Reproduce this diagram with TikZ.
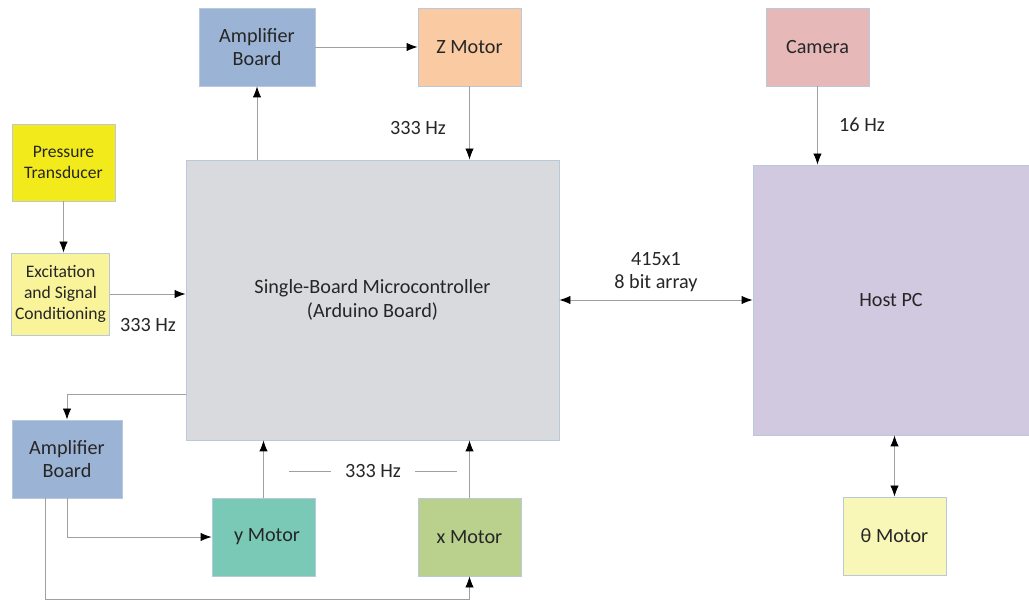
\documentclass[tikz,border=0pt]{standalone}
\usepackage{fontspec}
\setmainfont{Carlito}
\usetikzlibrary{arrows.meta, positioning, calc}
\definecolor{cAmp}{RGB}{155, 179, 212}
\definecolor{cZmot}{RGB}{250, 202, 162}
\definecolor{cCam}{RGB}{230, 184, 184}
\definecolor{cPress}{RGB}{242, 234, 26}
\definecolor{cExc}{RGB}{249, 243, 154}
\definecolor{cMcu}{RGB}{216, 218, 221}
\definecolor{cHost}{RGB}{209, 201, 224}
\definecolor{cYmot}{RGB}{121, 201, 182}
\definecolor{cXmot}{RGB}{185, 209, 140}
\definecolor{cTmot}{RGB}{249, 247, 184}
\definecolor{bBox}{RGB}{186, 200, 220}
\definecolor{lGray}{RGB}{160, 160, 160}
\definecolor{tDark}{RGB}{38, 38, 38}

\begin{document}
\begin{tikzpicture}[
    font=\fontsize{11.5}{13.5}\selectfont,
    block/.style={
        draw=bBox,
        line width=0.5pt,
        fill=#1,
        align=center,
        text=tDark,
        inner sep=2pt,
        minimum width=2.06cm,
        minimum height=1.56cm
    },
    small/.style={font=\fontsize{10}{12}\selectfont},
    arrow/.style={-{Latex[length=2.2mm, width=1.7mm, color=black]}, line width=0.5pt, color=lGray},
    both/.style={{Latex[length=2.2mm, width=1.7mm, color=black]}-{Latex[length=2.2mm, width=1.7mm, color=black]}, line width=0.5pt, color=lGray},
    lbl/.style={text=tDark, align=center}
]
\useasboundingbox (0, 0) rectangle (20.58, -12.02);

% Main blocks
\node[block=cMcu, minimum width=7.46cm, minimum height=5.6cm] (mcu) at (7.45, -6.0) {
    Single-Board Microcontroller\\(Arduino Board)
};
\node[block=cHost, minimum width=5.52cm, minimum height=5.4cm] (host) at (17.82, -6.0) {Host PC};

\node[block=cAmp, minimum width=2.32cm] (ampTop) at (5.14, -0.94) {Amplifier\\Board};
\node[block=cZmot] (zMotor) at (9.39, -0.94) {Z Motor};
\node[block=cCam] (camera) at (16.35, -0.94) {Camera};

\node[block=cPress, small, minimum height=1.54cm] (press) at (1.27, -3.25) {Pressure\\Transducer};
\node[block=cExc, small, minimum width=1.94cm, minimum height=1.64cm] (excite) at (1.21, -5.88) {Excitation\\and Signal\\Conditioning};

\node[block=cAmp, minimum width=2.2cm] (ampBot) at (1.34, -9.18) {Amplifier\\Board};
\node[block=cYmot] (yMotor) at (5.27, -10.74) {\hspace{4pt}y Motor};
\node[block=cXmot] (xMotor) at (9.39, -10.74) {x Motor};
\node[block=cTmot] (tMotor) at (17.89, -10.72) {θ Motor};

% Labels
\node[lbl] (fZ) at (8.36, -2.56) {333 Hz};
\node[lbl] (fExc) at (2.96, -6.5) {333 Hz};
\node[lbl] (fCam) at (17.24, -2.5) {16 Hz};
\node[lbl] (arr) at (13.12, -5.44) {415x1\\8 bit array};

% Connectors
\draw[arrow] (mcu.north -| ampTop) -- (ampTop.south);
\draw[arrow] (ampTop.east) -- (zMotor.west);
\draw[arrow] (zMotor.south) -- (mcu.north -| zMotor);
\draw[arrow] (press.south) -- (press.south |- excite.north);
\draw[arrow] (excite.east) -- (mcu.west |- excite.east);
\draw[arrow] ([yshift=-1.88cm]mcu.west) -| (ampBot.north);
\draw[arrow] (ampBot.south) |- (yMotor.west);
\draw[arrow] ([xshift=-0.44cm]ampBot.south) |- ($(xMotor.south)+(0,-0.46)$) -- (xMotor.south);
\draw[arrow] (yMotor.north) -- (mcu.south -| yMotor);
\draw[arrow] (xMotor.north) -- (mcu.south -| xMotor);
\draw[both] (mcu.east) -- (host.west);
\draw[arrow] (camera.south) -- (camera.south |- host.north);
\draw[both] (host.south -| tMotor) -- (tMotor.north);

% Rate of the x/y motors
\coordinate (hzL) at (5.78, -9.42);
\coordinate (hzR) at (9.14, -9.42);
\draw[line width=0.5pt, color=lGray] (hzL) -- (hzR);
\node[lbl, fill=white, inner xsep=8pt] (fXY) at (7.46, -9.42) {333 Hz};

\end{tikzpicture}
\end{document}
